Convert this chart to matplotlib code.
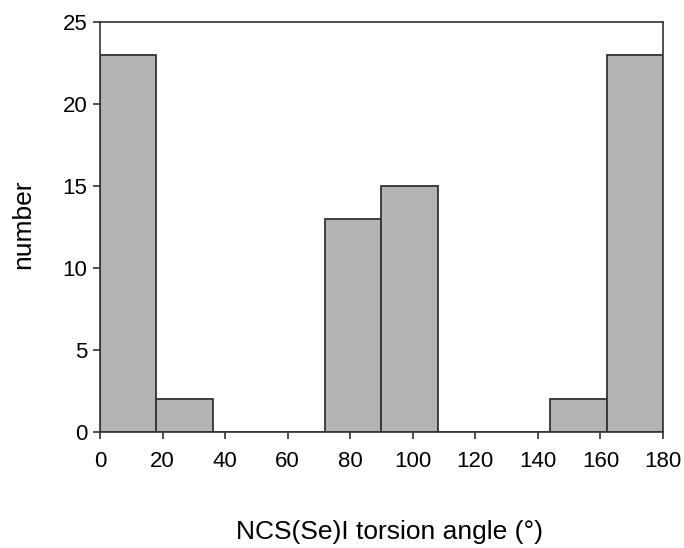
import numpy as np
import matplotlib.pyplot as plt

plt.rcParams['font.family'] = ['Liberation Sans', 'DejaVu Sans']

# histogram of torsion angles, 18 degree bins
bin_edges = np.arange(0, 181, 18)
counts = [23, 2, 0, 0, 13, 15, 0, 0, 2, 23]
x_ticks = np.arange(0, 181, 20)
y_ticks = np.arange(0, 26, 5)

fig = plt.figure(figsize=(6.84, 5.48), dpi=100)
ax = fig.add_axes([0.1462, 0.2117, 0.823, 0.748])

ax.bar(bin_edges[:-1], counts, width=np.diff(bin_edges), align='edge',
       color='#b3b3b3', edgecolor='#333333', linewidth=1.3)

ax.set_xlim(0, 180)
ax.set_ylim(0, 25)
ax.set_xticks(x_ticks)
ax.set_yticks(y_ticks)
ax.tick_params(direction='out', length=5, width=1.2, color='#333333',
               labelsize=16)
ax.tick_params(axis='x', pad=9)
ax.tick_params(axis='y', pad=4)
for s in ax.spines.values():
    s.set_linewidth(1.2)
    s.set_color('#333333')

fig.text(390 / 684, 1 - 532 / 548, 'NCS(Se)I torsion angle (°)', ha='center',
         va='center', fontsize=19)
fig.text(23 / 684, 1 - 224 / 548, 'number', rotation=90, ha='center',
         va='center', fontsize=19)

fig.savefig('out.png', dpi=100)
